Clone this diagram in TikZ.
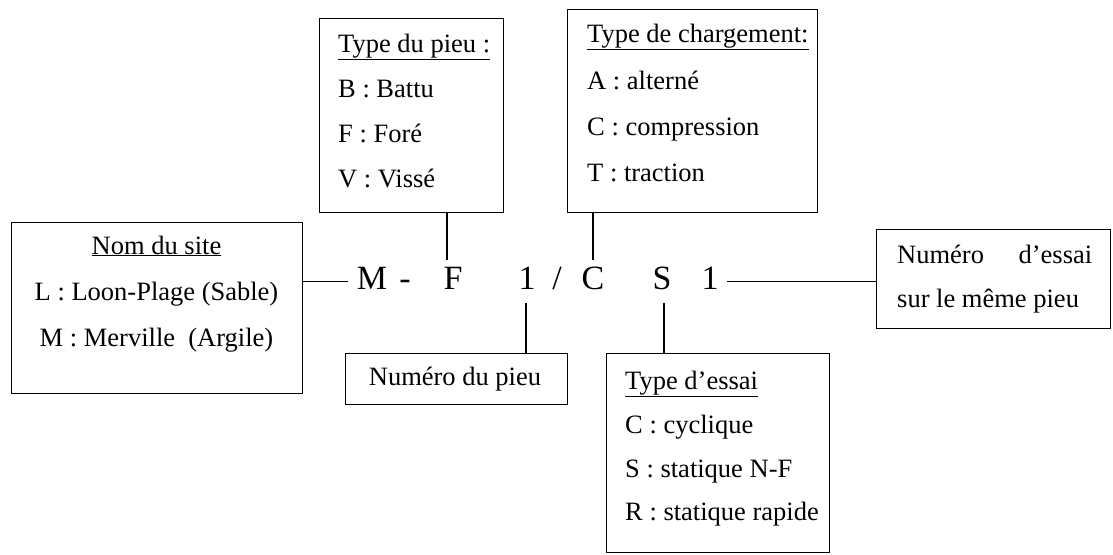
\documentclass[tikz,border=0pt]{standalone}
\usepackage{fontspec}
\setmainfont{Liberation Serif}
\begin{document}
\begin{tikzpicture}[x=1pt,y=-1pt,
  box/.style={draw, line width=1.3pt, inner sep=0pt, anchor=north west},
  txt/.style={inner sep=0pt, font=\fontsize{26.5}{30}\selectfont},
  code/.style={inner xsep=8.5pt, inner ysep=6.3pt, text height=22.7pt, text depth=7.7pt, anchor=base, font=\fontsize{34}{40}\selectfont},
  link/.style={line width=1.2pt}]
\useasboundingbox (0,0) rectangle (1113,554);

% boxes
\node[box, minimum width=291pt, minimum height=171pt] (site) at (11,222) {};
\node[box, minimum width=184pt, minimum height=194pt] (pieu) at (319,18) {};
\node[box, minimum width=250pt, minimum height=203pt] (charg) at (567,9) {};
\node[box, minimum width=234pt, minimum height=99pt] (essai) at (876,229) {};
\node[box, minimum width=222pt, minimum height=51pt] (numpieu) at (345,353) {};
\node[box, minimum width=223pt, minimum height=199pt] (typeessai) at (606,353) {};

% texts: Nom du site
\node[txt, anchor=base] (site0) at (156.5,254) {\underline{Nom du site}};
\node[txt, anchor=base] (site1) at (156.5,300.5) {L : Loon-Plage (Sable)};
\node[txt, anchor=base] (site2) at (156.5,346.5) {M : Merville~ (Argile)};

% Type du pieu
\node[txt, anchor=base west] (pieu0) at (338,52) {\underline{Type du pieu :}};
\node[txt, anchor=base west] (pieu1) at (338,97) {B : Battu};
\node[txt, anchor=base west] (pieu2) at (338,142) {F : Foré};
\node[txt, anchor=base west] (pieu3) at (338,187) {V : Vissé};

% Type de chargement
\node[txt, anchor=base west] (charg0) at (587,42) {\underline{Type de chargement:}};
\node[txt, anchor=base west] (charg1) at (587,89) {A : alterné};
\node[txt, anchor=base west] (charg2) at (587,135) {C : compression};
\node[txt, anchor=base west] (charg3) at (587,181) {T : traction};

% Numero d'essai
\node[txt, anchor=base west] (essai0) at (897,263) {\hbox to 195pt{Numéro\hfill d’essai}};
\node[txt, anchor=base west] (essai1) at (897,307) {sur le même pieu};

% Numero du pieu
\node[txt, anchor=base] (numpieu0) at (455,385) {Numéro du pieu};

% Type d'essai
\node[txt, anchor=base west] (te0) at (625,389) {\underline{Type d’essai}};
\node[txt, anchor=base west] (te1) at (625,433) {C : cyclique};
\node[txt, anchor=base west] (te2) at (625,477) {S : statique N-F};
\node[txt, anchor=base west] (te3) at (625,520) {R : statique rapide};

% central code
\node[code] (cM) at (372,289) {M};
\node[code] (cdash) at (405,289) {-};
\node[code] (cF) at (453,289) {F};
\node[code] (cone) at (527,289) {1};
\node[code] (cslash) at (557,289) {/};
\node[code] (cC) at (593,289) {C};
\node[code] (cS) at (662,289) {S};
\node[code] (conb) at (710,289) {1};

% connectors
\draw[link] (cM.west -| site.east) -- (cM.west);
\draw[link] (conb.east) -- (conb.east -| essai.west);
\draw[link] ([xshift=-6pt]cF.north |- pieu.south) -- ([xshift=-6pt]cF.north);
\draw[link] (cC.north |- charg.south) -- (cC.north);
\draw[link] ([xshift=-1pt]cone.south) -- ([xshift=-1pt]cone.south |- numpieu.north);
\draw[link] ([xshift=2pt]cS.south) -- ([xshift=2pt]cS.south |- typeessai.north);
\end{tikzpicture}
\end{document}
